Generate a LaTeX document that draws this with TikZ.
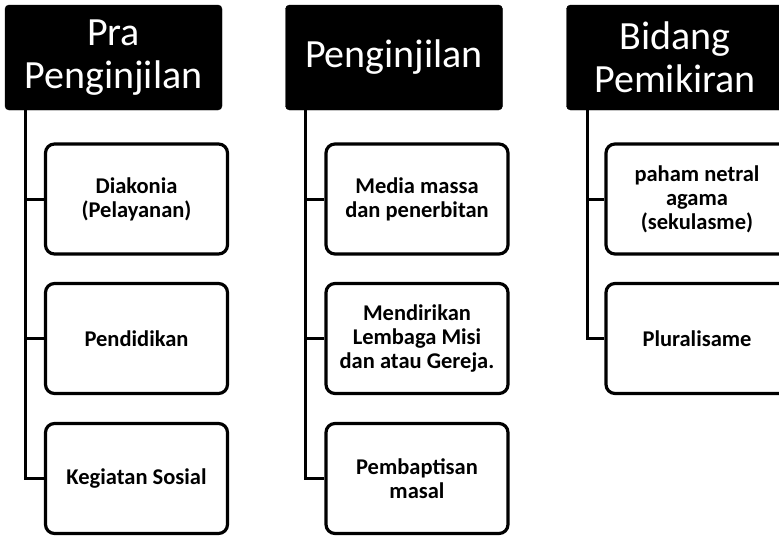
\documentclass[tikz,border=0pt]{standalone}
\usepackage{fontspec}
\setmainfont{Carlito}
\usepackage{tikz}
\usetikzlibrary{positioning,calc}

\begin{document}
\begin{tikzpicture}[
      x=1pt, y=-1pt,
      headbox/.style={rectangle, fill=black, draw=black, rounded corners=4pt,
        minimum width=217pt, minimum height=105pt, align=center,
        font=\fontsize{40}{43}\selectfont, text=white, inner sep=2pt},
      itembox/.style={rectangle, draw=black, line width=3.2pt, rounded corners=9pt,
        minimum width=182pt, minimum height=110pt, align=center,
        font=\fontsize{22.5}{24}\selectfont\bfseries, fill=white, inner sep=2pt},
      branch/.style={draw=black, line width=3pt},
  ]
      \clip (0,0) rectangle (779,536);
      \fill[white] (0,0) rectangle (779,536);

      % --- PRA PENGINJILAN ---
      \node[headbox] (pra) at (113.5, 57.5) {Pra\\Penginjilan};
      \node[itembox] (diakonia) at (136.5, 199) {Diakonia\\(Pelayanan)};
      \node[itembox] (pendidikan) at (136.5, 338.5) {Pendidikan};
      \node[itembox] (sosial) at (136.5, 478.5) {Kegiatan Sosial};
      \coordinate (tpra) at (25, 110);

      % --- PENGINJILAN ---
      \node[headbox] (injil) at (394, 57.5) {Penginjilan};
      \node[itembox] (media) at (417, 199) {Media massa\\dan penerbitan};
      \node[itembox] (lembaga) at (417, 338.5) {Mendirikan\\Lembaga Misi\\dan atau Gereja.};
      \node[itembox] (baptis) at (417, 478.5) {Pembaptisan\\masal};
      \coordinate (tinjil) at (305, 110);

      % --- BIDANG PEMIKIRAN ---
      \node[headbox] (pikir) at (675, 57.5) {Bidang\\Pemikiran};
      \node[itembox] (netral) at (697, 199) {paham netral\\agama\\(sekulasme)};
      \node[itembox] (plural) at (697, 338.5) {Pluralisame};
      \coordinate (tpikir) at (587, 110);

      % garis cabang
      \draw[branch] (tpra) |- (sosial.west);
      \draw[branch] (tpra) |- (pendidikan.west);
      \draw[branch] (tpra) |- (diakonia.west);

      \draw[branch] (tinjil) |- (baptis.west);
      \draw[branch] (tinjil) |- (lembaga.west);
      \draw[branch] (tinjil) |- (media.west);

      \draw[branch] (tpikir) |- (plural.west);
      \draw[branch] (tpikir) |- (netral.west);

  \end{tikzpicture}
\end{document}
